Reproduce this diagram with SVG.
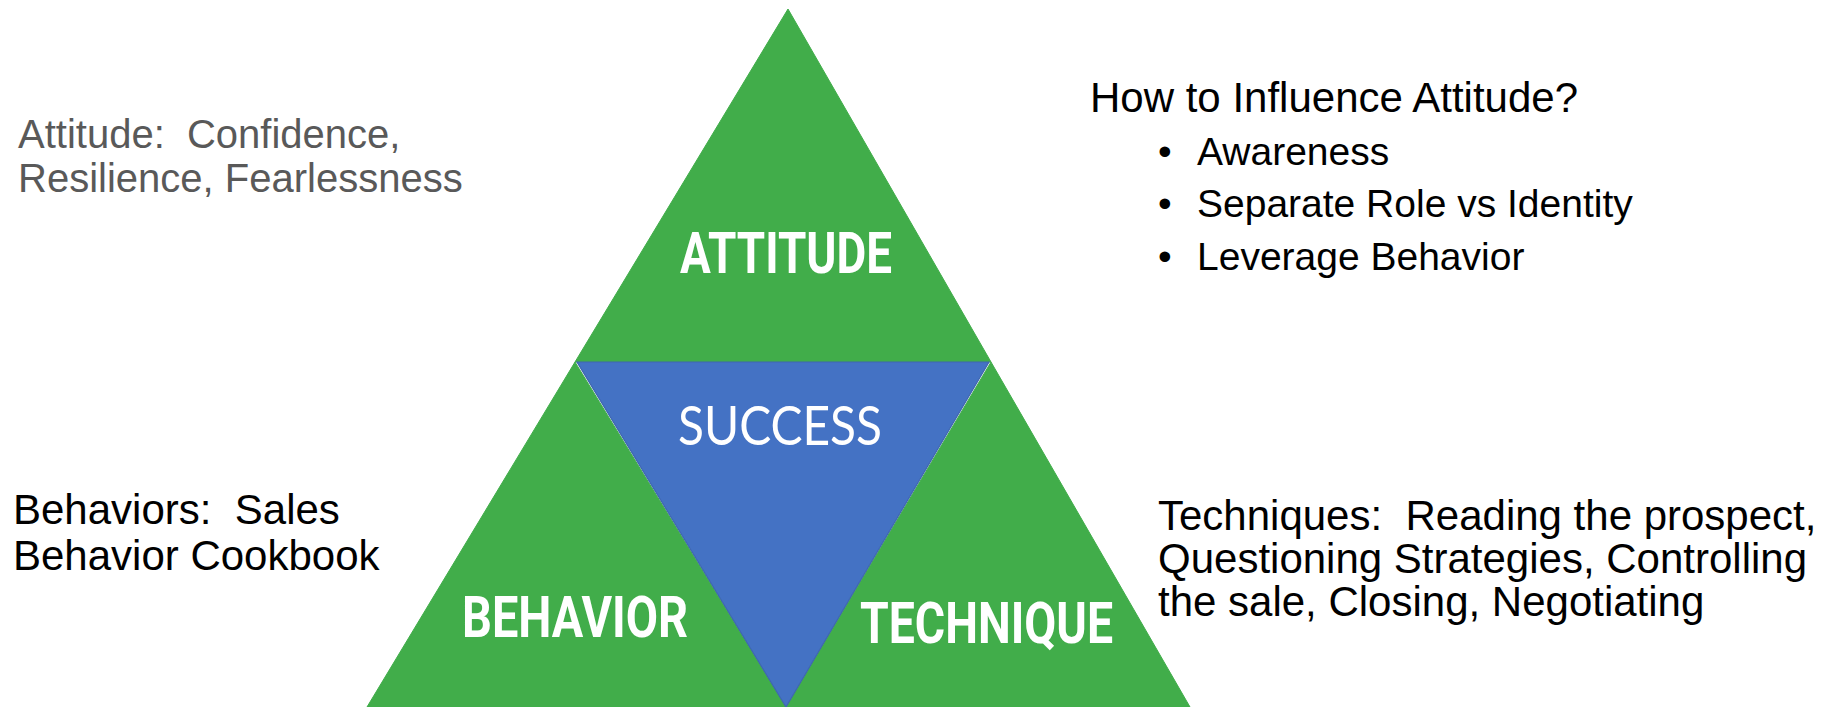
<svg xmlns="http://www.w3.org/2000/svg" width="1847" height="707" viewBox="0 0 1847 707">
  <style>
    .green { fill: #41AD4A; stroke: #41AD4A; stroke-width: 1; }
    .blue { fill: #4472C4; stroke: #3E66B0; stroke-width: 1.2; }
    .label { font-family: Roboto, "Liberation Sans", Arial, sans-serif; font-weight: 700; fill: #FFFFFF; font-size: 57px; }
    .core { font-family: Lato, "Open Sans", "Liberation Sans", sans-serif; font-weight: 400; fill: #FFFFFF; font-size: 54px; }
    .note { font-family: "Liberation Sans", Arial, sans-serif; font-size: 42px; fill: #000000; white-space: pre; }
    .grey { fill: #595959; font-size: 40px; }
    .sub { font-size: 39px; }
  </style>
  <rect width="1847" height="707" fill="#FFFFFF"/>

  <!-- top section of the pyramid -->
  <g id="attitude">
    <polygon class="green" points="788,9 575,362 991,362"/>
    <text class="label" x="680" y="273" textLength="212" lengthAdjust="spacingAndGlyphs">ATTITUDE</text>
  </g>

  <!-- lower left section -->
  <g id="behavior">
    <polygon class="green" points="575,362 367,707 786,707"/>
    <text class="label" x="462" y="637" textLength="226" lengthAdjust="spacingAndGlyphs">BEHAVIOR</text>
  </g>

  <!-- lower right section -->
  <g id="technique">
    <polygon class="green" points="991,362 786,707 1190,707"/>
    <text class="label" x="860" y="643" textLength="253" lengthAdjust="spacingAndGlyphs">TECHNIQUE</text>
  </g>

  <!-- inverted centre triangle -->
  <g id="success">
    <polygon class="blue" points="577,362 989,362 786,707"/>
    <text class="core" x="678" y="445" textLength="204" lengthAdjust="spacingAndGlyphs">SUCCESS</text>
  </g>

  <!-- side notes -->
  <g id="attitude-note">
    <text class="note grey" x="18" y="148" xml:space="preserve">Attitude:  Confidence,</text>
    <text class="note grey" x="18" y="192">Resilience, Fearlessness</text>
  </g>

  <g id="influence-note">
    <text class="note" x="1090" y="112">How to Influence Attitude?</text>
    <text class="note sub" x="1158" y="165">•</text>
    <text class="note sub" x="1197" y="165">Awareness</text>
    <text class="note sub" x="1158" y="217">•</text>
    <text class="note sub" x="1197" y="217">Separate Role vs Identity</text>
    <text class="note sub" x="1158" y="270">•</text>
    <text class="note sub" x="1197" y="270">Leverage Behavior</text>
  </g>

  <g id="behavior-note">
    <text class="note" x="13" y="524" xml:space="preserve">Behaviors:  Sales</text>
    <text class="note" x="13" y="570">Behavior Cookbook</text>
  </g>

  <g id="technique-note">
    <text class="note" x="1158" y="530" xml:space="preserve">Techniques:  Reading the prospect,</text>
    <text class="note" x="1158" y="573">Questioning Strategies, Controlling</text>
    <text class="note" x="1158" y="616">the sale, Closing, Negotiating</text>
  </g>
</svg>
